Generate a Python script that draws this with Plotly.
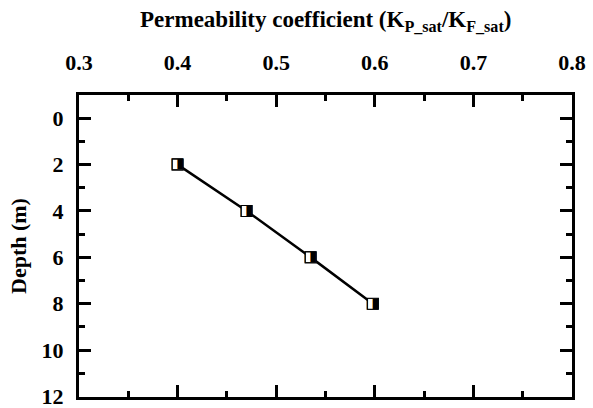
import plotly.graph_objects as go

ratio = [0.400, 0.470, 0.535, 0.598]
depth = [2, 4, 6, 8]
x_ticks = [0.3, 0.4, 0.5, 0.6, 0.7, 0.8]
y_ticks = [0, 2, 4, 6, 8, 10, 12]

FONT = "Liberation Serif"
tickfont = dict(family=FONT, size=22, color="black", weight="bold")

fig = go.Figure()
fig.add_trace(go.Scatter(
    x=ratio, y=depth, mode="lines",
    line=dict(color="black", width=2.5), showlegend=False))
fig.add_trace(go.Scatter(
    x=ratio, y=depth, mode="markers",
    marker=dict(symbol="square", size=11, color="white",
                line=dict(color="black", width=1.2)),
    showlegend=False))
fig.add_trace(go.Scatter(
    x=ratio, y=depth, mode="text", text=["◨"] * len(ratio),
    textposition="middle center",
    textfont=dict(family="DejaVu Sans", size=15, color="black"),
    showlegend=False))

axis_common = dict(
    showline=True, linecolor="black", linewidth=3, mirror="allticks",
    ticks="inside", ticklen=12, tickwidth=2.5, tickcolor="black",
    showgrid=False, zeroline=False, automargin=False,
    tickfont=tickfont, ticklabeloverflow="allow",
)

fig.update_xaxes(
    side="top", range=[0.3, 0.8], tickvals=x_ticks,
    ticktext=[f"{v:.1f}" for v in x_ticks],
    minor=dict(dtick=0.05, tick0=0.3, ticks="inside", ticklen=6,
               tickwidth=2.5, tickcolor="black"),
    ticklabelstandoff=13,
    **axis_common)
fig.update_yaxes(
    range=[12.02, -1.0], tickvals=y_ticks,
    minor=dict(dtick=1, tick0=0, ticks="inside", ticklen=6,
               tickwidth=2.5, tickcolor="black"),
    ticklabelstandoff=8,
    **axis_common)

fig.add_annotation(
    text="<b>Permeability coefficient (K<sub>P_sat</sub>/K<sub>F_sat</sub>)</b>",
    xref="paper", yref="paper", x=0.5, y=1.0, yshift=58,
    xanchor="center", yanchor="bottom", showarrow=False,
    font=dict(family=FONT, size=23, color="black"))
fig.add_annotation(
    text="<b>Depth (m)</b>", textangle=-90,
    xref="paper", yref="paper", x=0.0, y=0.5, xshift=-61,
    xanchor="center", yanchor="middle", showarrow=False,
    font=dict(family=FONT, size=22, color="black"))

fig.update_layout(
    width=593, height=408,
    margin=dict(l=79, r=21, t=95, b=11),
    paper_bgcolor="white", plot_bgcolor="white",
)
fig.write_html("out.html", config={"displayModeBar": False},
               post_script="document.body.style.margin='0';document.body.style.overflow='hidden';")
